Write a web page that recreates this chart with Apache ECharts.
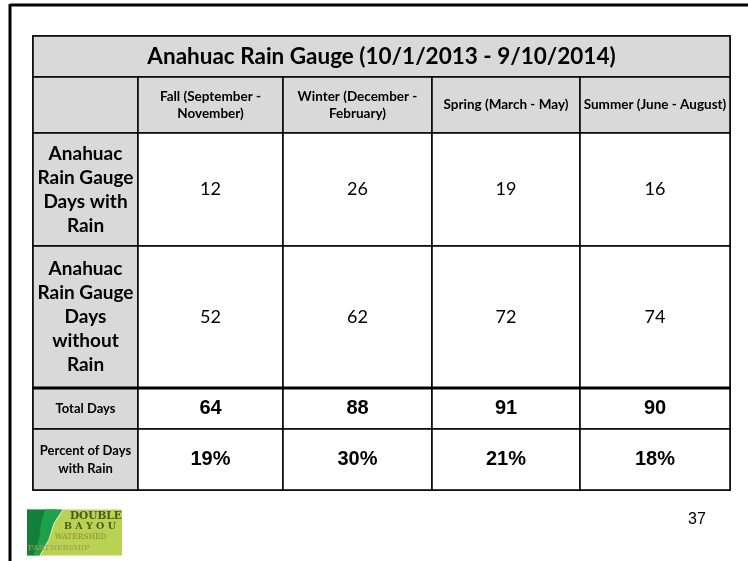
<!DOCTYPE html>
<html>
<head>
<meta charset="utf-8">
<title>Anahuac Rain Gauge</title>
<script src="https://cdn.jsdelivr.net/npm/echarts@6.0.0/dist/echarts.min.js"></script>
<style>
  html, body { margin: 0; padding: 0; background: #fff; }
  #main { width: 748px; height: 561px; }
</style>
</head>
<body>
<div id="main"></div>
<script>
// table content
const title = 'Anahuac Rain Gauge (10/1/2013 - 9/10/2014)'
const seasons = ['Fall (September -\nNovember)', 'Winter (December -\nFebruary)', 'Spring (March - May)', 'Summer (June - August)']
const rowNames = ['Anahuac\nRain Gauge\nDays with\nRain', 'Anahuac\nRain Gauge\nDays\nwithout\nRain', 'Total Days', 'Percent of Days\nwith Rain']
const daysWithRain = [12, 26, 19, 16]
const daysWithoutRain = [52, 62, 72, 74]
const totalDays = [64, 88, 91, 90]
const percentWithRain = ['19%', '30%', '21%', '18%']

const GREY = '#D9D9D9'
const FONT = 'Lato, "Open Sans", sans-serif'
const ARIAL = 'Arial, "Liberation Sans", sans-serif'

const chart = echarts.init(document.getElementById('main'))

const cells = []
// title row (merged)
cells.push({
  coord: [[0, 4], 0], mergeCells: true, value: title,
  itemStyle: { color: GREY },
  label: { fontSize: 22.5, fontWeight: 'bold' }
})
// header row
cells.push({ coord: [0, 1], value: '', itemStyle: { color: GREY } })
seasons.forEach((s, i) => {
  cells.push({
    coord: [i + 1, 1], value: s, itemStyle: { color: GREY },
    label: { fontSize: 13.5, fontWeight: 'bold', lineHeight: 17 }
  })
})
// row names
rowNames.forEach((r, j) => {
  const big = j < 2
  cells.push({
    coord: [0, j + 2], value: r, itemStyle: { color: GREY },
    label: big
      ? { fontSize: 19, fontWeight: 'bold', lineHeight: 24 }
      : { fontSize: 13, fontWeight: 'bold', lineHeight: 18 }
  })
})
const rows = [daysWithRain, daysWithoutRain, totalDays, percentWithRain]
rows.forEach((vals, j) => {
  vals.forEach((v, i) => {
    cells.push({
      coord: [i + 1, j + 2], value: String(v), itemStyle: { color: '#fff' },
      label: j < 2
        ? { fontSize: 18, fontFamily: FONT }
        : { fontSize: 20, fontWeight: 'bold', fontFamily: ARIAL }
    })
  })
})

chart.setOption({
  backgroundColor: '#fff',
  matrix: {
    left: 33,
    top: 36,
    width: 697,
    height: 454,
    x: {
      show: false,
      data: [{ value: 'c0', size: 105 }, { value: 'c1', size: 145 }, { value: 'c2', size: 149 }, { value: 'c3', size: 148 }, { value: 'c4', size: 150 }]
    },
    y: {
      show: false,
      data: [{ value: 'r0', size: 41 }, { value: 'r1', size: 56 }, { value: 'r2', size: 113 }, { value: 'r3', size: 142 }, { value: 'r4', size: 41 }, { value: 'r5', size: 61 }]
    },
    body: {
      data: cells,
      itemStyle: { borderColor: '#000', borderWidth: 1.5, color: '#fff' },
      label: { color: '#000', fontFamily: FONT, align: 'center', verticalAlign: 'middle' }
    },
    backgroundStyle: { borderColor: '#000', borderWidth: 1.5 }
  },
  series: [{
    // heavier rule above the totals row
    type: 'custom',
    coordinateSystem: 'matrix',
    data: [[0, 4], [4, 4]],
    renderItem: function (params, api) {
      if (params.dataIndex !== 0) return
      const a = api.layout([0, 4]).rect
      const b = api.layout([4, 4]).rect
      return {
        type: 'line',
        shape: { x1: a.x, y1: a.y, x2: b.x + b.width, y2: b.y },
        style: { stroke: '#000', lineWidth: 3 }
      }
    },
    silent: true,
    z: 10
  }],
  graphic: [
    // slide frame
    { type: 'line', shape: { x1: 10, y1: 5, x2: 748, y2: 5 }, style: { stroke: '#000', lineWidth: 3 } },
    { type: 'line', shape: { x1: 10, y1: 4, x2: 10, y2: 561 }, style: { stroke: '#000', lineWidth: 3 } },
    // page number
    { type: 'text', left: 688, top: 512, style: { text: '37', fontSize: 16, fontFamily: ARIAL, fill: '#000' } },
    // logo
    {
      type: 'group', left: 27, top: 507,
      children: [
        { type: 'rect', shape: { x: 0, y: 0, width: 95, height: 46 }, style: { fill: '#B9D253' } },
        { type: 'polygon', shape: { points: [[0, 0], [30, 0], [22, 14], [17, 30], [8, 46], [0, 46]] }, style: { fill: '#12803A' } },
        { type: 'polygon', shape: { points: [[18, 0], [36, 0], [27, 14], [22, 30], [13, 46], [6, 46], [12, 30], [14, 14]] }, style: { fill: '#1FA04A' } },
        { type: 'polyline', shape: { points: [[36, 0], [27, 14], [22, 30], [13, 46]] }, style: { stroke: '#E3F0D8', lineWidth: 1, fill: null } },
        { type: 'text', left: 43, top: 1, style: { text: 'DOUBLE', fontSize: 10.5, fontWeight: 'bold', fontFamily: '"DejaVu Serif", serif', fill: '#4A5A1A' } },
        { type: 'text', left: 37, top: 12, style: { text: 'B A Y O U', fontSize: 9.5, fontWeight: 'bold', fontFamily: '"DejaVu Serif", serif', fill: '#4A5A1A' } },
        { type: 'text', left: 28, top: 24, style: { text: 'WATERSHED', fontSize: 7.5, fontFamily: '"DejaVu Serif", serif', fill: '#8C8A3A' } },
        { type: 'text', left: 1, top: 34, style: { text: 'PARTNERSHIP', fontSize: 8, fontFamily: '"DejaVu Serif", serif', fill: '#A39A55' } }
      ]
    }
  ]
})
</script>
</body>
</html>
